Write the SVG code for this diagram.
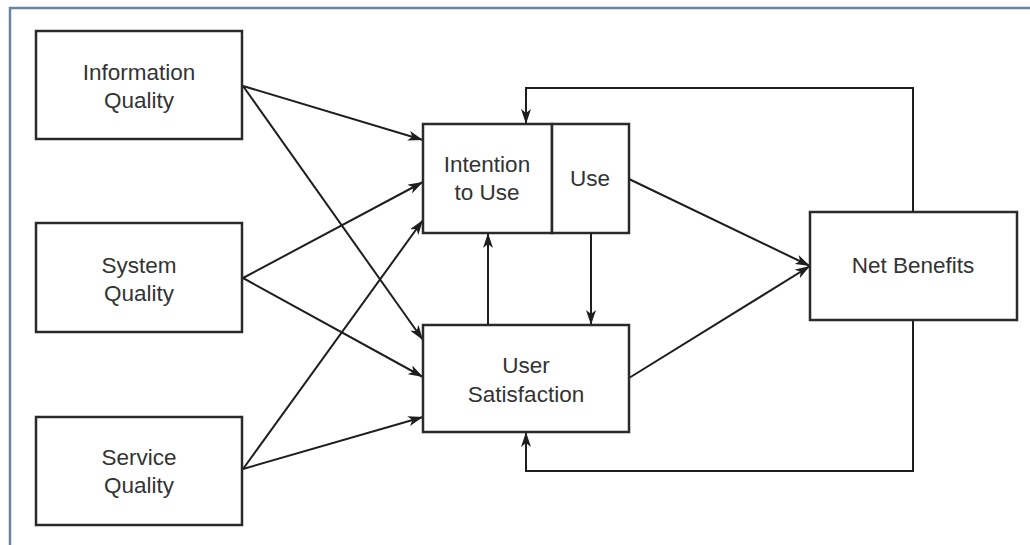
<svg xmlns="http://www.w3.org/2000/svg" width="1030" height="545" viewBox="0 0 1030 545">
<style>
.box{fill:#fff;stroke:#2a2a2a;stroke-width:2.5}
.t{font-family:"Liberation Sans",Arial,sans-serif;font-size:22.5px;fill:#333;text-anchor:middle}
.c{fill:none;stroke:#1e1e1e;stroke-width:2}
</style>
<defs>
<marker id="ah" markerUnits="userSpaceOnUse" viewBox="0 0 15 10" refX="15" refY="5" markerWidth="15" markerHeight="10" orient="auto">
<path d="M0,0 L15,5 L0,10 L4,5 Z" fill="#1e1e1e"/>
</marker>
</defs>
<rect width="1030" height="545" fill="#fff"/>
<g id="frame" fill="none" stroke="#6b84a3" stroke-width="2.5">
<path d="M10,545 V8 H1030"/>
</g>
<g id="connectors">
<line class="c" x1="243" y1="86" x2="423" y2="140" marker-end="url(#ah)"/>
<line class="c" x1="243" y1="86" x2="423" y2="340" marker-end="url(#ah)"/>
<line class="c" x1="243" y1="278" x2="423" y2="182" marker-end="url(#ah)"/>
<line class="c" x1="243" y1="278" x2="423" y2="377" marker-end="url(#ah)"/>
<line class="c" x1="243" y1="469" x2="423" y2="220" marker-end="url(#ah)"/>
<line class="c" x1="243" y1="469" x2="423" y2="417" marker-end="url(#ah)"/>
<line class="c" x1="629" y1="179" x2="810" y2="266" marker-end="url(#ah)"/>
<line class="c" x1="629" y1="378" x2="810" y2="266" marker-end="url(#ah)"/>
<line class="c" x1="488" y1="325" x2="488" y2="233" marker-end="url(#ah)"/>
<line class="c" x1="591" y1="233" x2="591" y2="325" marker-end="url(#ah)"/>
<path class="c" d="M913,212 V88 H526 V124" marker-end="url(#ah)"/>
<path class="c" d="M913,320 V471 H526 V432" marker-end="url(#ah)"/>
</g>
<g id="information-quality">
<rect class="box" x="36" y="31" width="206" height="108"/>
<text class="t" x="139" y="80">Information</text>
<text class="t" x="139" y="108">Quality</text>
</g>
<g id="system-quality">
<rect class="box" x="36" y="223" width="206" height="109"/>
<text class="t" x="139" y="273">System</text>
<text class="t" x="139" y="301">Quality</text>
</g>
<g id="service-quality">
<rect class="box" x="36" y="417" width="206" height="108"/>
<text class="t" x="139" y="465">Service</text>
<text class="t" x="139" y="493">Quality</text>
</g>
<g id="intention-to-use">
<rect class="box" x="423" y="124" width="129" height="109"/>
<text class="t" x="487" y="172">Intention</text>
<text class="t" x="487" y="200">to Use</text>
</g>
<g id="use">
<rect class="box" x="552" y="124" width="77" height="109"/>
<text class="t" x="590" y="186">Use</text>
</g>
<g id="user-satisfaction">
<rect class="box" x="423" y="325" width="206" height="107"/>
<text class="t" x="526" y="373">User</text>
<text class="t" x="526" y="402">Satisfaction</text>
</g>
<g id="net-benefits">
<rect class="box" x="810" y="212" width="207" height="108"/>
<text class="t" x="913" y="273">Net Benefits</text>
</g>
</svg>
